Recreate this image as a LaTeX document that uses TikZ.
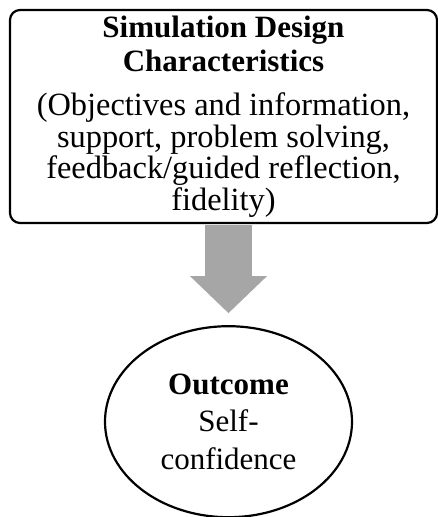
\documentclass[tikz,border=0pt]{standalone}
\usepackage{fontspec}
\setmainfont{Liberation Serif}
\usetikzlibrary{positioning}
\usetikzlibrary{shapes.geometric}
\usetikzlibrary{arrows.meta}
\definecolor{arrowgray}{rgb}{0.65, 0.65, 0.65}
\newcommand{\bodysize}{\fontsize{32.4}{31.5}\selectfont}
\tikzset{designbox/.style = {draw, line width=2.2pt, rounded corners=10pt,
                             minimum width=427pt, minimum height=213pt,
                             inner sep=0, align=center,
                             font=\fontsize{31}{31.5}\selectfont}}
\tikzset{outcomebox/.style = {draw, ellipse, line width=2.2pt,
                              minimum width=247pt, minimum height=191pt,
                              inner sep=0, align=center,
                              font=\fontsize{31}{37.5}\selectfont}}
\tikzset{bigarrow/.style = {draw=arrowgray, line width=47pt,
                            -{Triangle[width=77pt, length=37pt, line width=0pt]},
                            shorten >=12pt, shorten <=1.1pt}}

\begin{document}
\begin{tikzpicture}[x=1pt, y=1pt]
      \useasboundingbox (0, 0) rectangle (438, -517);

      \node [designbox] (design) at (223.5, -116.5)
        {\textbf{Simulation Design}\\[2.5pt]
         \textbf{Characteristics}\\[12.5pt]
         \bodysize (Objectives and information,\\
         \bodysize support, problem solving,\\
         \bodysize feedback/guided reflection,\\
         \bodysize fidelity)};
      \node [outcomebox, below=101pt of design, xshift=5pt] (outcome)
        {\textbf{Outcome}\\ Self-\\ confidence};

      \draw [bigarrow] (outcome.north |- design.south) -- (outcome.north);
    \end{tikzpicture}
\end{document}
